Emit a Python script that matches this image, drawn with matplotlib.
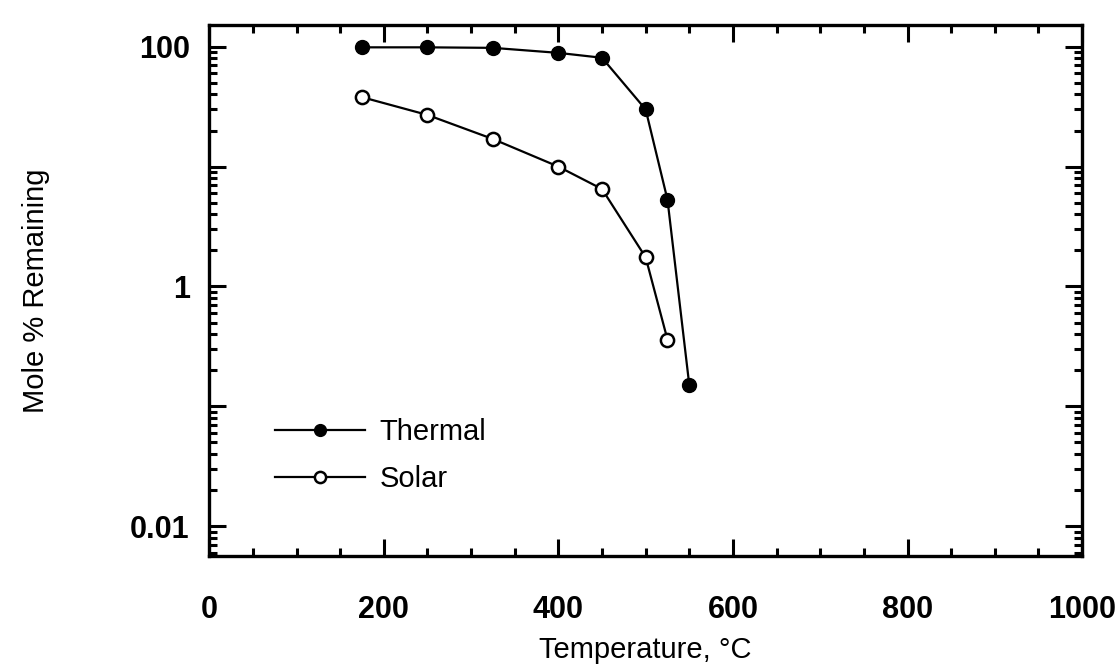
import matplotlib
matplotlib.use("Agg")
import matplotlib.pyplot as plt
from matplotlib.ticker import FixedLocator, LogLocator, NullFormatter, MultipleLocator

# data
temp_thermal = [175, 250, 325, 400, 450, 500, 525, 550]
thermal = [99, 99, 98, 89, 81, 30, 5.3, 0.15]
temp_solar = [175, 250, 325, 400, 450, 500, 525]
solar = [38, 27, 17, 10, 6.5, 1.75, 0.36]

x_ticks = [0, 200, 400, 600, 800, 1000]
y_ticks = [0.01, 0.1, 1, 10, 100]
y_labels = ['0.01', '', '1', '', '100']

plt.rcParams['font.family'] = ['Liberation Sans', 'DejaVu Sans']

fig = plt.figure(figsize=(11.19, 6.67), dpi=100)
ax = fig.add_axes([0.187, 0.166, 0.780, 0.797])

ax.plot(temp_thermal, thermal, color='black', lw=1.6, marker='o', ms=10,
        mfc='black', mec='black', label='Thermal')
ax.plot(temp_solar, solar, color='black', lw=1.6, marker='o', ms=9.5,
        mfc='white', mec='black', mew=1.8, label='Solar')

ax.set_yscale('log')
ax.set_xlim(0, 1000)
ax.set_ylim(0.0056, 153)

ax.xaxis.set_major_locator(FixedLocator(x_ticks))
ax.xaxis.set_minor_locator(MultipleLocator(50))
ax.set_xticklabels([str(t) for t in x_ticks], fontweight='bold')
ax.yaxis.set_major_locator(FixedLocator(y_ticks))
ax.set_yticklabels(y_labels, fontweight='bold')
ax.yaxis.set_minor_locator(LogLocator(base=10, subs=range(2, 10), numticks=20))
ax.yaxis.set_minor_formatter(NullFormatter())

for s in ax.spines.values():
    s.set_linewidth(2.4)
ax.tick_params(which='both', direction='in', top=True, right=True, width=2.2)
ax.tick_params(which='major', length=12)
ax.tick_params(which='minor', length=6)
ax.tick_params(axis='x', which='major', labelsize=22, pad=28)
ax.tick_params(axis='y', which='major', labelsize=22, pad=14)

ax.set_xlabel('Temperature, °C', fontsize=21, labelpad=8)
ax.set_ylabel('Mole % Remaining', fontsize=21, labelpad=58)

leg = ax.legend(loc='lower left', bbox_to_anchor=(0.045, 0.07), frameon=False,
                fontsize=21, handlelength=3.1, labelspacing=0.65,
                handletextpad=0.5, markerscale=0.85)

fig.savefig('out.png', dpi=100, facecolor='white')
